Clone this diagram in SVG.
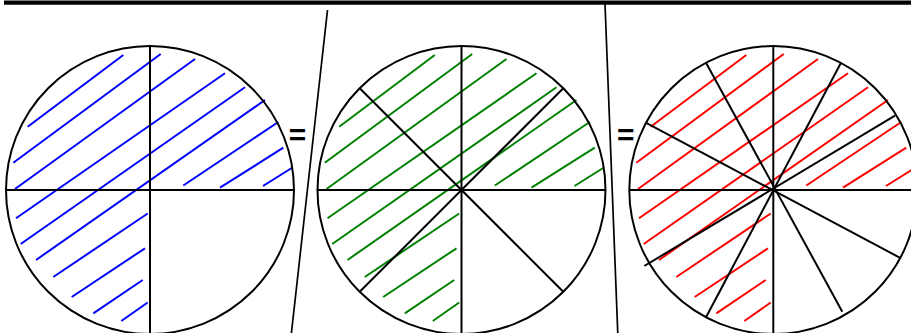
<svg xmlns="http://www.w3.org/2000/svg" xmlns:xlink="http://www.w3.org/1999/xlink" width="911" height="333" viewBox="0 0 911 333">
<style>
.ln{stroke:#000;stroke-width:2;fill:none}
.ci{stroke:#000;stroke-width:2;fill:none}
.sep{stroke:#000;stroke-width:1.7;fill:none}
.h line{stroke-width:2;stroke-linecap:butt}
.eq{font-family:"Liberation Sans",Arial,sans-serif;font-size:30px;font-weight:bold;fill:#000}
</style>
<defs>
<g id="hatch" class="h">
<line x1="27.7" y1="126.7" x2="123.3" y2="55"/>
<line x1="13.3" y1="162.7" x2="160.7" y2="54"/>
<line x1="15" y1="189" x2="195" y2="59"/>
<line x1="16" y1="218.3" x2="225" y2="73.3"/>
<line x1="20.7" y1="244" x2="245" y2="87.3"/>
<line x1="36" y1="260" x2="265" y2="100"/>
<line x1="53.3" y1="277" x2="147.7" y2="213.5"/>
<line x1="71.7" y1="297" x2="145" y2="248.3"/>
<line x1="93.3" y1="313.3" x2="142.7" y2="280"/>
<line x1="121.3" y1="321" x2="147.7" y2="302.5"/>
<line x1="183.3" y1="185.5" x2="278.3" y2="122"/>
<line x1="220" y1="187.7" x2="283.3" y2="147.7"/>
<line x1="263" y1="186" x2="291.7" y2="168"/>
</g>
</defs>
<line id="topbar" x1="4" y1="2.7" x2="911" y2="2.7" stroke="#000" stroke-width="4.2"/>
<g id="circle1">
<use xlink:href="#hatch" href="#hatch" stroke="#0000ff"/>
<circle class="ci" cx="150" cy="190" r="144"/>
<line class="ln" x1="6" y1="190" x2="294" y2="190"/>
<line class="ln" x1="150" y1="46" x2="150" y2="334"/>
</g>
<g id="circle2">
<use xlink:href="#hatch" href="#hatch" stroke="#008000" transform="translate(311.5,0)"/>
<circle class="ci" cx="461.5" cy="190" r="144"/>
<line class="ln" x1="317.5" y1="190" x2="605.5" y2="190"/>
<line class="ln" x1="461.5" y1="46" x2="461.5" y2="334"/>
<line class="ln" x1="359.7" y1="88.2" x2="563.3" y2="291.8"/>
<line class="ln" x1="563.3" y1="88.2" x2="359.7" y2="291.8"/>
</g>
<g id="circle3">
<use xlink:href="#hatch" href="#hatch" stroke="#ff0000" transform="translate(623,0)"/>
<circle class="ci" cx="773.3" cy="190" r="144"/>
<line class="ln" x1="629" y1="190" x2="911" y2="190"/>
<line class="ln" x1="773.3" y1="46" x2="773.3" y2="334"/>
<line class="ln" x1="706" y1="62.7" x2="842.3" y2="311.7"/>
<line class="ln" x1="841" y1="62.7" x2="706" y2="317.3"/>
<line class="ln" x1="895" y1="115.7" x2="644.3" y2="266"/>
<line class="ln" x1="645.7" y1="122.7" x2="901" y2="258.3"/>
</g>
<g id="separators">
<line class="sep" x1="327.5" y1="10" x2="291.3" y2="334"/>
<line class="sep" x1="605" y1="4" x2="617.8" y2="334"/>
</g>
<g id="equals">
<text class="eq" x="297.5" y="145" text-anchor="middle">=</text>
<text class="eq" x="625.8" y="145" text-anchor="middle">=</text>
</g>
</svg>
